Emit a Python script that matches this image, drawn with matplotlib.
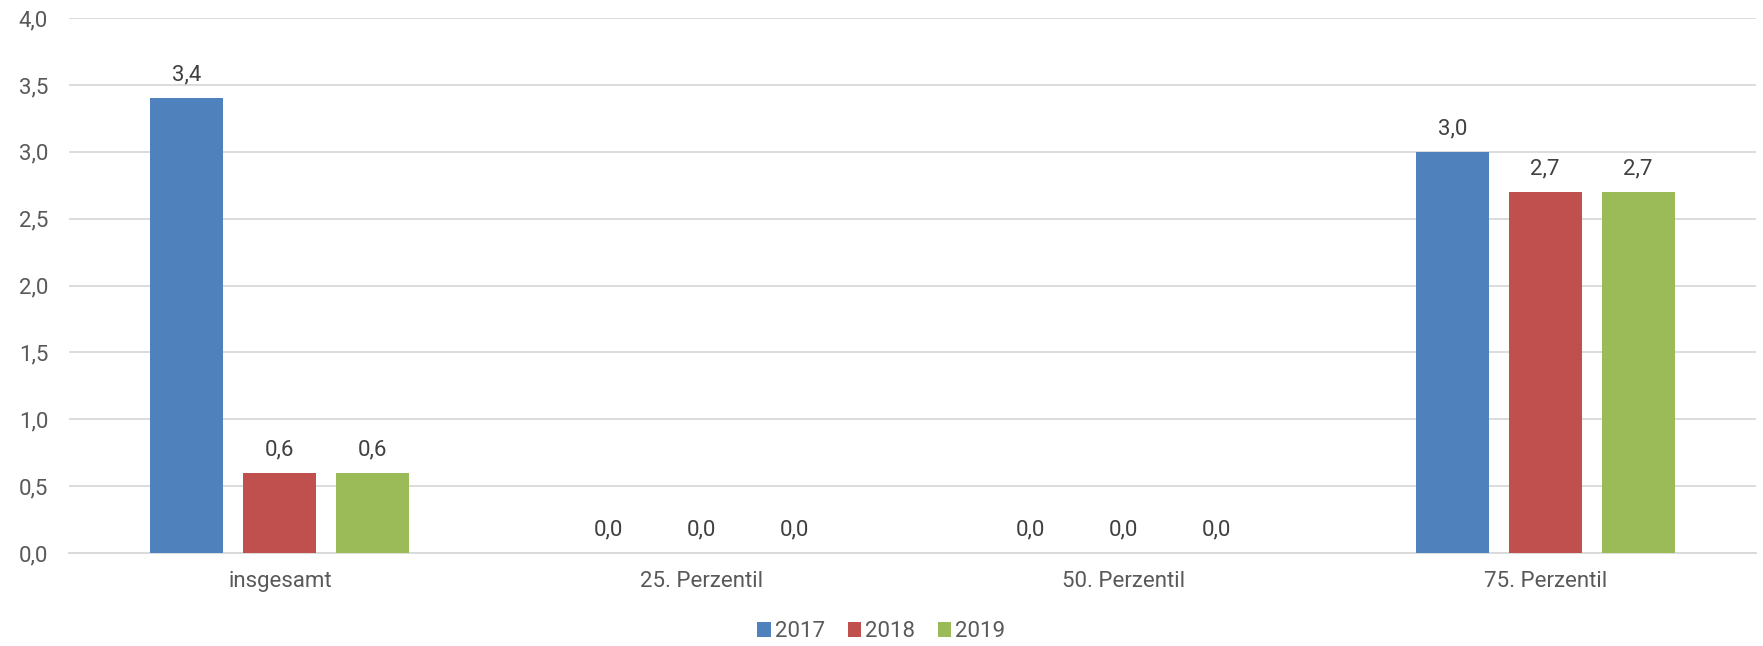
import matplotlib
matplotlib.use("Agg")
import matplotlib.pyplot as plt
import numpy as np
from matplotlib.patches import Patch

plt.rcParams['font.family'] = ['Roboto', 'DejaVu Sans']

categories = ["insgesamt", "25. Perzentil", "50. Perzentil", "75. Perzentil"]
years = ["2017", "2018", "2019"]
values_2017 = [3.4, 0.0, 0.0, 3.0]
values_2018 = [0.6, 0.0, 0.0, 2.7]
values_2019 = [0.6, 0.0, 0.0, 2.7]
series = [values_2017, values_2018, values_2019]
colors = ["#4F81BD", "#C0504D", "#9BBB59"]
yticks = [0.0, 0.5, 1.0, 1.5, 2.0, 2.5, 3.0, 3.5, 4.0]

text_color = "#595959"
label_color = "#404040"
grid_color = "#D9D9D9"
fs = 16

fig = plt.figure(figsize=(17.63, 6.46), dpi=100)
ax = fig.add_axes([0.0391, 0.144, 0.957, 0.828])

x = np.arange(len(categories))
width = 0.173
step = 0.2205

def fmt(v):
    return f"{v:.1f}".replace(".", ",")

for i, (vals, col) in enumerate(zip(series, colors)):
    pos = x + (i - 1) * step
    ax.bar(pos, vals, width=width, color=col, zorder=3)
    for px, v in zip(pos, vals):
        ax.annotate(fmt(v), (px, v), xytext=(0, 9), textcoords="offset points",
                    ha="center", va="bottom", fontsize=fs, color=label_color)

ax.set_xlim(-0.5, len(categories) - 0.5)
ax.set_ylim(0, 4.0)
ax.set_yticks(yticks)
ax.set_yticklabels([fmt(t) for t in yticks])
ax.set_xticks(x)
ax.set_xticklabels(categories)

ax.yaxis.grid(True, color=grid_color, linewidth=1.3, zorder=0)
ax.set_axisbelow(True)
for s in ["top", "right", "left"]:
    ax.spines[s].set_visible(False)
ax.spines["bottom"].set_color(grid_color)
ax.spines["bottom"].set_linewidth(1.3)
ax.tick_params(axis="both", length=0, labelsize=fs, colors=text_color)
ax.tick_params(axis="y", pad=15)
ax.tick_params(axis="x", pad=13)

handles = [Patch(facecolor=c, label=y) for c, y in zip(colors, years)]
leg = fig.legend(handles=handles, loc="center", bbox_to_anchor=(0.5, 0.022),
                 ncol=3, frameon=False, fontsize=fs, handlelength=0.6,
                 handleheight=0.6, handletextpad=0.2, columnspacing=1.0)
for t in leg.get_texts():
    t.set_color(text_color)

fig.savefig("out.png", dpi=100)
